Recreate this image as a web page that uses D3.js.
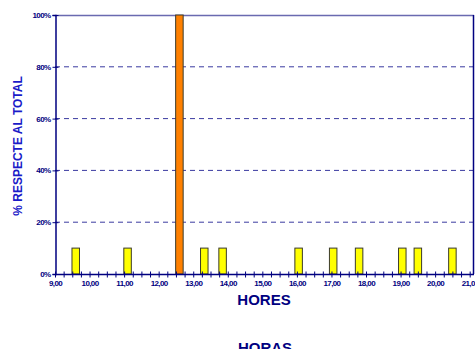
<!DOCTYPE html>
<html>
<head>
<meta charset="utf-8">
<script src="https://cdn.jsdelivr.net/npm/d3@7"></script>
<style>
  body { margin: 0; background: #fff; }
  svg { display: block; font-family: Arial, "Liberation Sans", sans-serif; }
</style>
</head>
<body>
<svg width="475" height="349"></svg>
<script>
// Data
var hores = [9.6, 11.1, 12.6, 13.32, 13.85, 16.05, 17.05, 17.8, 19.05, 19.5, 20.5];
var percent = [10, 10, 100, 10, 10, 10, 10, 10, 10, 10, 10];
var yTicks = [0, 20, 40, 60, 80, 100];
var hourTicks = [9, 10, 11, 12, 13, 14, 15, 16, 17, 18, 19, 20, 21];
var hourLabels = ['9,00', '10,00', '11,00', '12,00', '13,00', '14,00', '15,00',
                  '16,00', '17,00', '18,00', '19,00', '20,00', '21,00'];

var svg = d3.select('svg');
var navy = '#000080';

var plot = {l: 55, r: 474, t: 15, b: 274};

var x = d3.scaleLinear().domain([9, 21.125]).range([plot.l, plot.r]);
var y = d3.scaleLinear().domain([0, 100]).range([plot.b, plot.t]);

// gridlines
svg.selectAll('.grid')
    .data(yTicks.filter(function(d){ return d > 0 && d < 100; }))
    .enter().append('line')
    .attr('x1', plot.l).attr('x2', plot.r)
    .attr('y1', function(d){ return y(d); })
    .attr('y2', function(d){ return y(d); })
    .attr('stroke', '#3a3aa0')
    .attr('stroke-dasharray', '5,4');

// top line
svg.append('line')
    .attr('x1', plot.l).attr('x2', plot.r)
    .attr('y1', y(100) + 0.5).attr('y2', y(100) + 0.5)
    .attr('stroke', '#6a6ab0').attr('stroke-width', 1.5);

// right border
svg.append('line')
    .attr('x1', plot.r - 0.5).attr('x2', plot.r - 0.5)
    .attr('y1', y(100)).attr('y2', y(0))
    .attr('stroke', navy).attr('stroke-width', 1.5);

// bars
var barW = 7.5;
svg.selectAll('.bar')
    .data(hores)
    .enter().append('rect')
    .attr('class', 'bar')
    .attr('x', function(d){ return x(d) - barW / 2; })
    .attr('y', function(d, i){ return y(percent[i]); })
    .attr('width', barW)
    .attr('height', function(d, i){ return y(0) - y(percent[i]); })
    .attr('fill', function(d, i){ return percent[i] === d3.max(percent) ? '#ff8000' : '#ffff00'; })
    .attr('stroke', '#3a3a2a')
    .attr('stroke-width', 1);

// y axis
var yAxis = d3.axisLeft(y).tickValues(yTicks).tickSize(3)
    .tickFormat(function(d){ return d + '%'; });
var yG = svg.append('g')
    .attr('transform', 'translate(' + [plot.l + 0.5, 0] + ')')
    .call(yAxis);
yG.select('.domain').attr('stroke', navy).attr('stroke-width', 1.5);
yG.selectAll('.tick line').attr('stroke', navy).attr('x2', 3).attr('x1', -3);
yG.selectAll('.tick text')
    .attr('x', -5)
    .attr('fill', navy)
    .attr('font-size', 8)
    .attr('font-weight', 'bold')
    .attr('letter-spacing', -0.6)
    .attr('font-family', 'Arial, "Liberation Sans", sans-serif');

// x axis with quarter-hour ticks
var quarters = d3.range(9, 21.01, 0.25);
var xAxis = d3.axisBottom(x).tickValues(quarters).tickSize(3)
    .tickFormat(function(d){
        var k = hourTicks.indexOf(d);
        return k >= 0 ? hourLabels[k] : '';
    });
var xG = svg.append('g')
    .attr('transform', 'translate(' + [0, plot.b + 0.5] + ')')
    .call(xAxis);
xG.select('.domain').attr('stroke', navy).attr('stroke-width', 1.5)
    .attr('d', 'M' + plot.l + ',0H' + plot.r);
xG.selectAll('.tick line').attr('stroke', navy).attr('y1', -3).attr('y2', 3);
xG.selectAll('.tick text')
    .attr('y', 6)
    .attr('fill', navy)
    .attr('font-size', 8)
    .attr('font-weight', 'bold')
    .attr('letter-spacing', -0.6)
    .attr('font-family', 'Arial, "Liberation Sans", sans-serif');

// axis titles
svg.append('text')
    .attr('x', 264).attr('y', 305)
    .attr('text-anchor', 'middle')
    .attr('font-size', 15).attr('font-weight', 'bold')
    .attr('fill', navy)
    .text('HORES');

svg.append('text')
    .attr('x', 265).attr('y', 353)
    .attr('text-anchor', 'middle')
    .attr('font-size', 15).attr('font-weight', 'bold')
    .attr('fill', navy)
    .text('HORAS');

svg.append('text')
    .attr('transform', 'translate(22,146)rotate(-90)')
    .attr('text-anchor', 'middle')
    .attr('font-size', 12).attr('font-weight', 'bold')
    .attr('fill', '#1a1ac8')
    .text('% RESPECTE AL TOTAL');
</script>
</body>
</html>
